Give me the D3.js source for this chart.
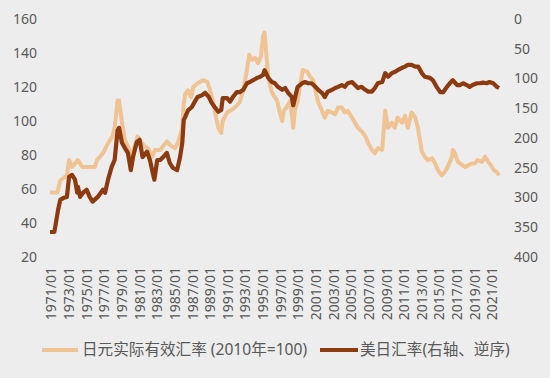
<!DOCTYPE html>
<html><head><meta charset="utf-8">
<script src="https://cdn.jsdelivr.net/npm/d3@7"></script>
<style>
html,body{margin:0;padding:0;background:#ededed;}
svg{display:block;}
text{font-family:"Noto Sans","Noto Sans CJK SC",sans-serif;}
</style></head>
<body><svg id="c" width="550" height="378"></svg>
<script>
// 日元实际有效汇率 (2010年=100), left axis
const reerDates = ["1971-01","1971-11","1972-03","1972-12","1973-03","1973-07","1974-03","1974-09","1975-05","1976-02","1976-05","1977-01","1977-08","1978-02","1978-05","1978-09","1978-11","1979-03","1979-07","1979-11","1980-04","1980-08","1980-12","1981-06","1981-10","1982-02","1982-08","1982-12","1983-07","1984-04","1984-08","1985-03","1985-07","1986-01","1986-03","1986-05","1986-09","1987-01","1987-04","1987-09","1988-01","1988-05","1988-11","1989-03","1989-07","1989-11","1990-02","1990-06","1990-08","1991-02","1991-06","1991-10","1992-03","1992-07","1992-12","1993-05","1993-08","1993-12","1994-04","1994-08","1994-12","1995-03","1995-05","1995-08","1995-10","1996-02","1996-04","1996-10","1997-01","1997-05","1997-07","1997-11","1998-04","1998-08","1998-10","1999-02","1999-05","1999-09","2000-03","2000-07","2000-11","2001-02","2001-06","2001-11","2002-03","2002-07","2003-01","2003-05","2003-09","2004-02","2004-06","2004-10","2005-04","2005-08","2005-12","2006-05","2006-10","2007-02","2007-07","2007-11","2008-03","2008-09","2009-01","2009-05","2009-10","2010-02","2010-06","2010-12","2011-04","2011-08","2012-01","2012-06","2012-10","2013-03","2013-07","2013-11","2014-05","2014-09","2015-01","2015-06","2015-10","2016-02","2016-08","2016-09","2016-12","2017-04","2017-10","2018-02","2018-06","2018-11","2019-03","2019-07","2020-01","2020-05","2020-09","2021-01","2021-05","2021-09","2021-12"];
const reerValues = [58,58,65,68,77,73,77,73,73,73,77,81,87,91,96,112,112,99,89,85,79,85,91,87,85,84,79,83,83,88,86,84,87,96,110,116,118,114,120,122,123,124,123,118,111,102,96,93,100,105,106,107,109,111,118,130,139,136,137,134,138,150,152,136,126,118,116,112,106,100,106,108,112,96,106,112,120,130,129,126,124,118,111,106,102,106,105,104,108,108,105,106,102,99,96,94,91,87,83,81,84,83,106,96,99,96,102,99,103,96,105,102,95,82,79,77,78,75,71,68,70,73,79,83,81,76,74,73,74,75,75,77,76,79,76,74,71,70,68];

// 美日汇率 (右轴、逆序)
const usdjpyDates = ["1971-01","1971-07","1971-12","1972-03","1972-07","1972-12","1973-03","1973-07","1973-11","1974-02","1974-03","1974-06","1974-10","1975-03","1975-07","1975-11","1976-06","1977-01","1977-04","1977-08","1978-01","1978-05","1978-09","1978-11","1979-03","1979-07","1979-11","1980-03","1980-06","1980-11","1981-03","1981-07","1982-01","1982-05","1982-08","1982-11","1983-03","1983-07","1983-11","1984-04","1984-08","1984-12","1985-06","1985-10","1986-01","1986-03","1986-05","1986-09","1987-02","1987-06","1987-10","1988-04","1988-08","1989-01","1989-05","1989-09","1990-02","1990-06","1990-08","1991-02","1991-06","1991-10","1992-03","1992-07","1992-12","1993-05","1993-09","1994-01","1994-07","1994-11","1995-03","1995-05","1995-10","1996-03","1996-07","1996-11","1997-05","1997-09","1998-01","1998-06","1998-08","1998-12","1999-02","1999-08","1999-12","2000-04","2000-09","2001-02","2001-06","2001-11","2002-03","2002-07","2003-01","2003-05","2003-09","2004-02","2004-06","2004-10","2005-04","2005-08","2005-12","2006-05","2006-10","2007-02","2007-07","2007-11","2008-03","2008-09","2009-01","2009-05","2009-10","2010-02","2010-06","2010-12","2011-04","2011-08","2012-01","2012-06","2012-10","2013-03","2013-07","2014-02","2014-06","2014-11","2015-04","2015-08","2016-01","2016-05","2016-09","2017-03","2017-07","2017-11","2018-04","2018-08","2018-12","2019-06","2019-10","2020-02","2020-07","2020-11","2021-04","2021-09","2021-12"];
const usdjpyValues = [358,358,321,304,301,299,265,262,270,292,282,299,292,287,299,307,299,287,292,270,248,237,187,183,208,217,225,254,232,207,203,232,223,237,254,270,237,237,232,225,242,250,254,232,208,170,165,153,148,139,131,128,124,131,141,148,156,153,133,133,139,131,123,123,119,108,106,103,99,97,94,86,99,106,108,114,119,116,124,131,145,124,114,108,106,108,108,114,119,124,131,122,119,116,114,111,114,108,106,111,116,114,119,122,122,116,108,106,91,97,91,89,86,82,80,77,77,80,80,91,97,99,103,114,123,123,114,108,103,111,111,108,111,114,111,108,108,107,108,106,108,114,116];

const leftTicks = [20,40,60,80,100,120,140,160];
const rightTicks = [0,50,100,150,200,250,300,350,400];
const xTickYears = d3.range(1971, 2022, 2);
const legendLabels = ["日元实际有效汇率 (2010年=100)", "美日汇率(右轴、逆序)"];
const colors = ["#efc393", "#8c3a10"];

const parse = d3.timeParse("%Y-%m");
const svg = d3.select("#c");
const x = d3.scaleTime().domain([new Date(1971,0,1), new Date(2021,0,1)]).range([50, 491]);
const yL = d3.scaleLinear().domain([20,160]).range([257,19]);
const yR = d3.scaleLinear().domain([0,400]).range([19,257]);
const txtCol = "#595959";

const gl = svg.append("g").attr("transform","translate(37,0)")
  .call(d3.axisLeft(yL).tickValues(leftTicks).tickSize(0).tickPadding(0));
gl.select(".domain").remove();
gl.selectAll("text").attr("fill",txtCol).style("font-size","14px");

const gr = svg.append("g").attr("transform","translate(514,0)")
  .call(d3.axisRight(yR).tickValues(rightTicks).tickSize(0).tickPadding(0));
gr.select(".domain").remove();
gr.selectAll("text").attr("fill",txtCol).style("font-size","14px");

const gx = svg.append("g").attr("transform","translate(1,267)")
  .call(d3.axisBottom(x).tickValues(xTickYears.map(y=>new Date(y,0,1))).tickFormat(d3.timeFormat("%Y/%m")).tickSize(0).tickPadding(0));
gx.select(".domain").remove();
gx.selectAll("text").attr("fill",txtCol).style("font-size","14px")
  .attr("transform","rotate(-90)").attr("text-anchor","end").attr("dy","0.35em").attr("y",0).attr("x",0);

const reer = reerDates.map((d,i)=>({d:parse(d), v:reerValues[i]}));
const uj = usdjpyDates.map((d,i)=>({d:parse(d), v:usdjpyValues[i]}));

svg.append("path").datum(reer).attr("fill","none").attr("stroke",colors[0]).attr("stroke-width",4)
  .attr("stroke-linejoin","round").attr("d", d3.line().x(p=>x(p.d)).y(p=>yL(p.v)));
svg.append("path").datum(uj).attr("fill","none").attr("stroke",colors[1]).attr("stroke-width",4.2)
  .attr("stroke-linejoin","round").attr("d", d3.line().x(p=>x(p.d)).y(p=>yR(p.v)));

const lg = [{x1:42,x2:78,tx:82},{x1:320,x2:358,tx:360}];
lg.forEach((l,i)=>{
  svg.append("line").attr("x1",l.x1).attr("x2",l.x2).attr("y1",350).attr("y2",350)
    .attr("stroke",colors[i]).attr("stroke-width",4);
  svg.append("text").attr("x",l.tx).attr("y",350).attr("dy","0.35em").attr("fill",txtCol)
    .style("font-size","15.6px").text(legendLabels[i]);
});
</script></body></html>
